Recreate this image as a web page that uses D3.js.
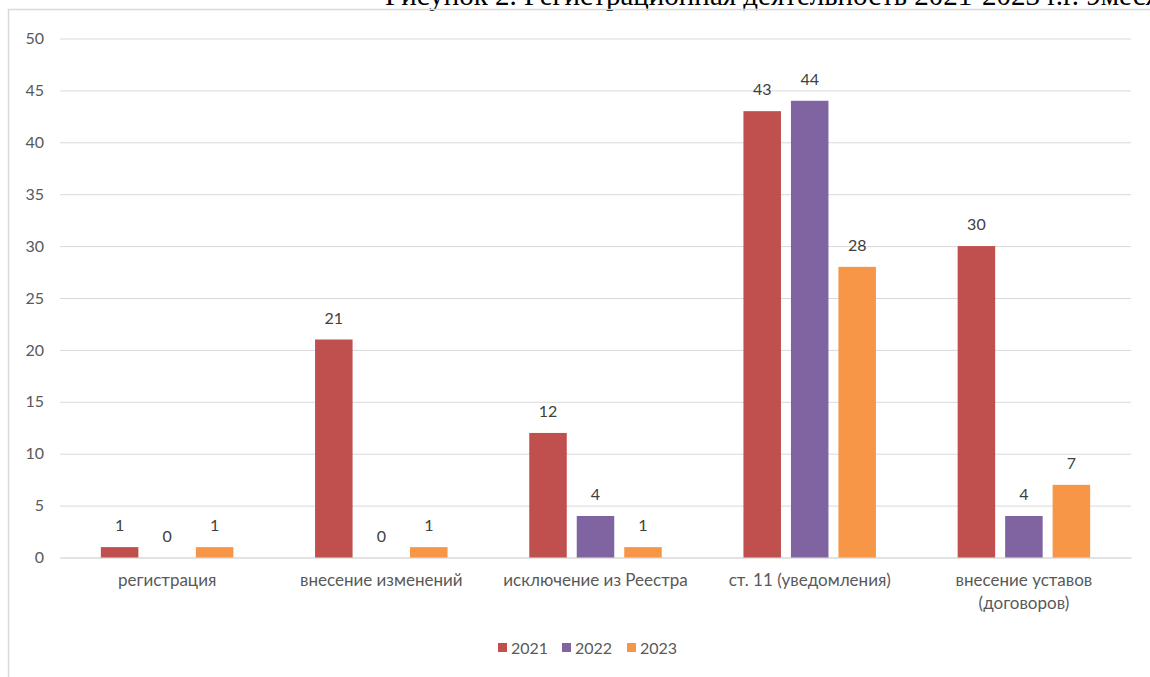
<!DOCTYPE html>
<html>
<head>
<meta charset="utf-8">
<script src="https://cdn.jsdelivr.net/npm/d3@7"></script>
<style>
  html, body { margin: 0; padding: 0; background: #fff; overflow: hidden; }
  svg { display: block; }
</style>
</head>
<body>
<svg id="chart" width="1150" height="677"></svg>
<script>
const categories = [
  ["регистрация"],
  ["внесение изменений"],
  ["исключение из Реестра"],
  ["ст. 11 (уведомления)"],
  ["внесение уставов", "(договоров)"]
]
const years = ["2021", "2022", "2023"]
const values2021 = [1, 21, 12, 43, 30]
const values2022 = [0, 0, 4, 44, 4]
const values2023 = [1, 1, 1, 28, 7]
const yTicks = [0, 5, 10, 15, 20, 25, 30, 35, 40, 45, 50]
const colors = ["#C0504D", "#8064A2", "#F79646"]
const title = "Рисунок 2. Регистрационная деятельность 2021-2023 г.г. 9месяцев"

const series = [values2021, values2022, values2023]
const width = 1150, height = 677
const plotLeft = 60, plotRight = 1131, plotTop = 38.5, plotBottom = 557.5
const font = "Lato, 'Open Sans', sans-serif"
const fs = 16

const svg = d3.select("#chart")

// title, clipped at the top like in the document
svg.append("text")
    .attr("x", 385).attr("y", 5)
    .attr("font-family", "'Liberation Serif', 'Times New Roman', serif")
    .attr("font-size", 29)
    .attr("fill", "#000")
    .text(title)

// chart frame
svg.append("path")
    .attr("d", `M8.5,${height + 5} V9.5 H${width + 5}`)
    .attr("fill", "none")
    .attr("stroke", "#d9d9d9")
    .attr("stroke-width", 1.5)

//scales
const x0 = d3.scaleBand()
    .domain(d3.range(categories.length))
    .range([plotLeft, plotRight])
const groupW = 132.5
const x1 = d3.scaleBand()
    .domain(d3.range(years.length))
    .range([(x0.bandwidth() - groupW) / 2, (x0.bandwidth() + groupW) / 2])
    .paddingInner(0.21)
const y = d3.scaleLinear()
    .domain([0, 50])
    .range([plotBottom, plotTop])

//grid + y axis
const yAxis = d3.axisLeft(y)
    .tickValues(yTicks)
    .tickSize(-(plotRight - plotLeft))
    .tickPadding(16)
const gy = svg.append("g")
    .attr("transform", `translate(${plotLeft},0)`)
    .call(yAxis)
gy.select(".domain").remove()
gy.selectAll(".tick line").attr("stroke", "#d9d9d9").attr("stroke-width", 1)
gy.selectAll(".tick text")
    .attr("font-family", font)
    .attr("font-size", fs)
    .attr("fill", "#595959")

//x axis
const gx = svg.append("g")
    .attr("transform", `translate(0,${plotBottom})`)
    .call(d3.axisBottom(x0).tickSize(0).tickFormat(""))
gx.select(".domain").attr("stroke", "#d9d9d9").attr("stroke-width", 1)
gx.selectAll(".tick").each(function (i) {
    const t = d3.select(this).select("text")
        .attr("font-family", font)
        .attr("font-size", 17)
        .attr("fill", "#595959")
        .attr("y", 0)
        .attr("dy", 0)
    categories[i].forEach((line, k) => {
        t.append("tspan").attr("x", 0).attr("y", 28 + k * 23).text(line)
    })
})

//bars
const groups = svg.append("g").selectAll("g")
    .data(categories)
    .join("g")
    .attr("transform", (d, i) => `translate(${x0(i)},0)`)

groups.selectAll("rect")
    .data((d, i) => series.map((s, k) => ({k, v: s[i]})))
    .join("rect")
    .attr("x", d => x1(d.k))
    .attr("width", x1.bandwidth())
    .attr("y", d => y(d.v))
    .attr("height", d => y(0) - y(d.v))
    .attr("fill", d => colors[d.k])

groups.selectAll("text.val")
    .data((d, i) => series.map((s, k) => ({k, v: s[i]})))
    .join("text")
    .attr("class", "val")
    .attr("x", d => x1(d.k) + x1.bandwidth() / 2)
    .attr("y", d => y(d.v) - 16)
    .attr("text-anchor", "middle")
    .attr("font-family", font)
    .attr("font-size", fs)
    .attr("fill", "#404040")
    .text(d => d.v)

//legend
const legendX = [498, 562, 627]
const legend = svg.append("g").selectAll("g")
    .data(years)
    .join("g")
    .attr("transform", (d, i) => `translate(${legendX[i]},643)`)
legend.append("rect")
    .attr("width", 9).attr("height", 9)
    .attr("fill", (d, i) => colors[i])
legend.append("text")
    .attr("x", 13).attr("y", 10.5)
    .attr("font-family", font)
    .attr("font-size", fs)
    .attr("fill", "#595959")
    .text(d => d)
</script>
</body>
</html>
